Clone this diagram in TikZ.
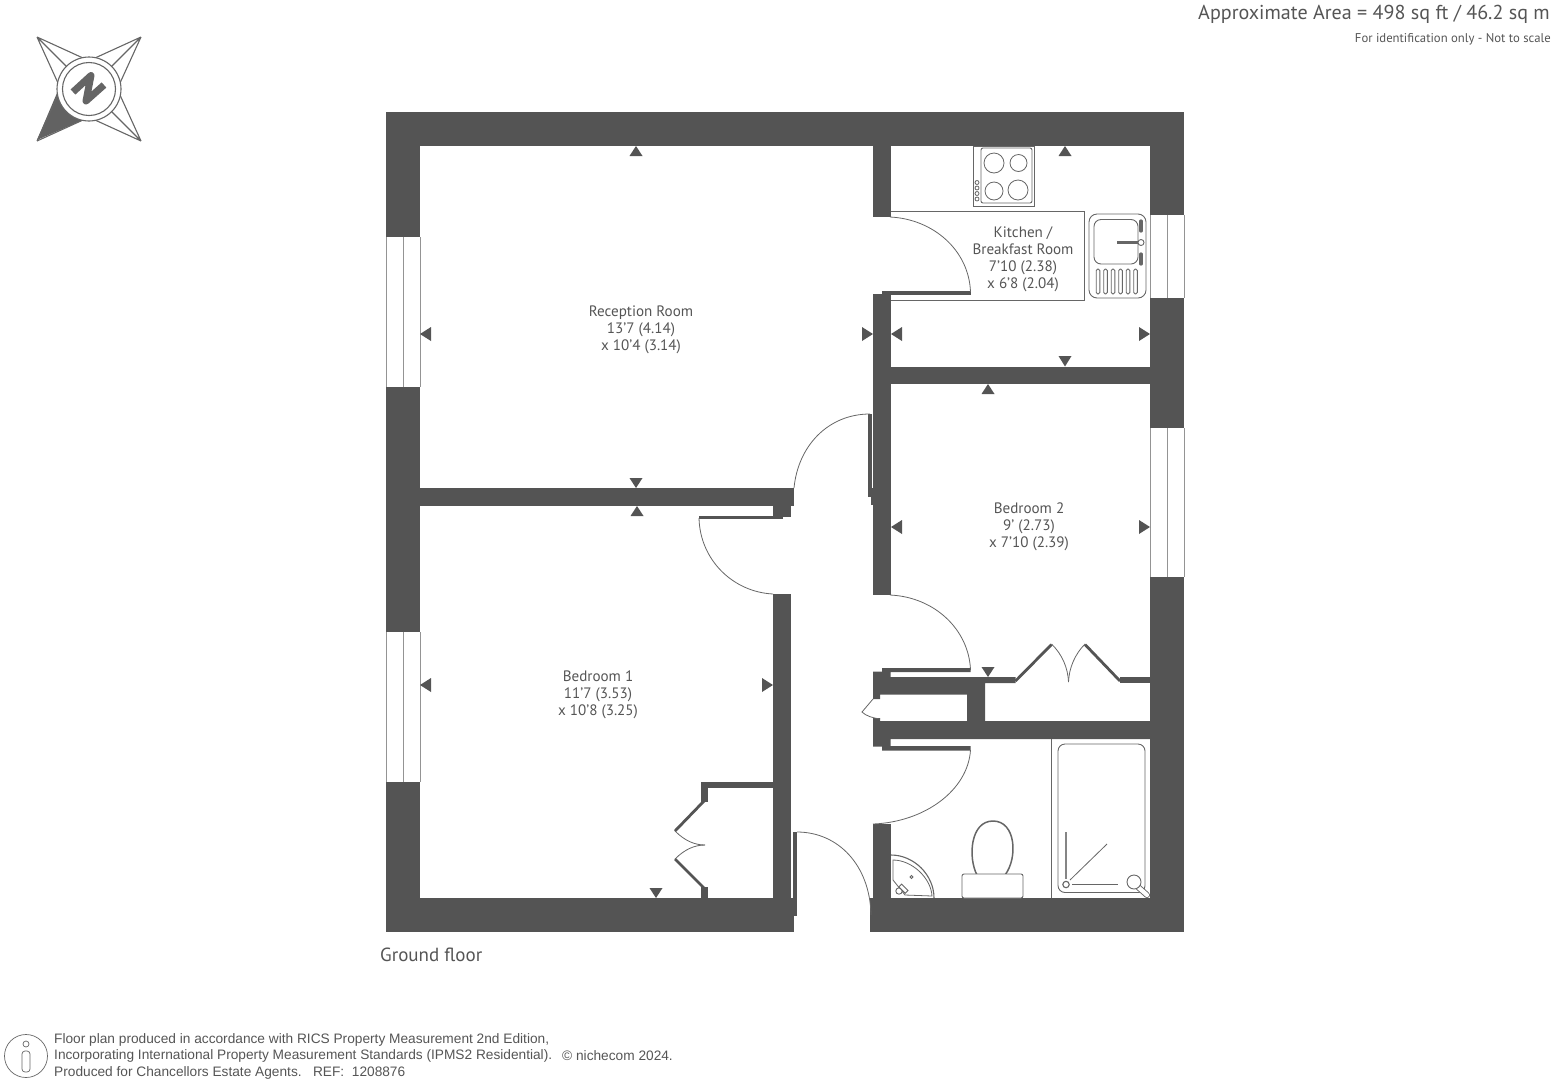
\documentclass[tikz,border=0pt]{standalone}
\usepackage{fontspec}
\setmainfont{PT Sans}
\newfontfamily\footfont{Liberation Sans}
\definecolor{wallc}{HTML}{545454}
\definecolor{linec}{HTML}{666666}
\definecolor{textc}{HTML}{555555}
\tikzset{
 wall/.style={fill=wallc,draw=none},
 thin line/.style={draw=linec,line width=0.8pt},
 fixture/.style={draw=linec,line width=0.9pt,fill=white},
 leaf/.style={draw=wallc,line width=2.8pt},
 marker/.style={fill=wallc,draw=none},
 room/.style={align=center,text=textc,font=\fontsize{15.1}{17}\selectfont,inner sep=0pt},
}
\begin{document}
\begin{tikzpicture}[x=1pt,y=-1pt]
\useasboundingbox (0,0) rectangle (1553,1085);
% ---- outer walls
\fill[wall] (386,112) rectangle (1184,146);
\fill[wall] (386,146) rectangle (420,898);
\fill[wall] (1150,146) rectangle (1184,898);
\fill[wall] (386,898) rectangle (794,932);
\fill[wall] (870,898) rectangle (1184,932);
% ---- windows
\foreach \xa/\xb/\ya/\yb in {386/420/237/387, 386/420/632/782, 1150/1184/215/298, 1150/1184/428/577}{
  \fill[white] (\xa,\ya) rectangle (\xb,\yb);
  \draw[draw=linec!70,line width=0.5pt] (\xa,\ya) -- (\xa,\yb) (\xb,\ya) -- (\xb,\yb);
  \draw[draw=linec!70,line width=0.5pt] ({(\xa+\xb)/2},\ya) -- ({(\xa+\xb)/2},\yb);
}
% ---- inner walls
\fill[wall] (873,146) rectangle (890.5,217);
\fill[wall] (873,294) rectangle (890.5,595);
\fill[wall] (890,366.5) rectangle (1150,384);
\fill[wall] (420,488) rectangle (794,505.5);
\fill[wall] (773,505) rectangle (791,517);
\fill[wall] (773,594) rectangle (791,898);
\fill[wall] (791,898) rectangle (794,915);
% stub offsets at doors
\fill[wall] (868,488) rectangle (873,497);
\fill[wall] (871,497) rectangle (873,505);
\fill[wall] (882,291) rectangle (970.5,295);
\fill[wall] (873,294) rectangle (882,298);
% ---- door leaves
\fill[wall] (868,414) rectangle (872,490);
\fill[wall] (698.5,515.5) rectangle (783,519);
\fill[wall] (793,832) rectangle (797,915.5);
% ---- walls round the store and bath
\fill[wall] (873,671.5) -- (882,671.5) -- (882,668) -- (970.5,668) -- (970.5,672) -- (890.5,672) -- (890.5,677) -- (1015.5,677) -- (1015.5,683) -- (985,683) -- (985,721) -- (1150,721) -- (1150,739) -- (890.5,739) -- (890.5,746) -- (970.5,746) -- (970.5,750.5) -- (882,750.5) -- (882,746.5) -- (873,746.5) -- (873,718) -- (880,718) -- (880,721) -- (967,721) -- (967,694.5) -- (880,694.5) -- (880,699) -- (873,699) -- cycle;
\fill[wall] (1120,677) rectangle (1150,683);
\fill[wall] (873,824) rectangle (890.5,898);
% ---- bedroom 1 closet
\fill[wall] (701,782) rectangle (773,788);
\fill[wall] (701,782) rectangle (708,802);
\fill[wall] (701,887) rectangle (708,898);
\draw[leaf] (704,801) -- (675,831);
\draw[leaf] (704,888) -- (675,859);
\draw[thin line] (675,831) .. controls (685,841) and (695,845) .. (705,845);
\draw[thin line] (675,859) .. controls (685,849) and (695,845) .. (705,845);
% ---- door swings
\draw[thin line] (890,217) .. controls (933,219) and (969,250) .. (970.5,292);
\draw[thin line] (794,488) .. controls (798,446) and (828,414) .. (870,414);
\draw[thin line] (699,518) .. controls (700,560) and (733,592) .. (773,594);
\draw[thin line] (797,832) .. controls (838,832) and (870,865) .. (871,915);
\draw[thin line] (890,595) .. controls (935,597) and (969,630) .. (970.5,670);
\draw[thin line] (970.5,750) .. controls (968,790) and (925,822) .. (873,824);
\draw[thin line] (873,699) -- (862,712) .. controls (866,716) and (873,718) .. (880,719);
% ---- bedroom 2 closet
\draw[leaf] (1015.5,681) -- (1051.5,644.5);
\draw[leaf] (1120,681) -- (1085,644.5);
\draw[thin line] (1051.5,644) .. controls (1062,654) and (1068,668) .. (1068.5,682);
\draw[thin line] (1085,644) .. controls (1075,654) and (1069,668) .. (1068.5,682);
% ---- kitchen
\draw[thin line] (890.5,211.5) -- (1084,211.5) -- (1084,300) -- (890.5,300);
\draw[fixture] (973,146) rectangle (1034,206);
\draw[fixture,rounded corners=2pt] (981,148) rectangle (1032,203);
\draw[thin line] (994,163) circle[radius=10pt];
\draw[thin line] (1018.5,163) circle[radius=8.5pt];
\draw[thin line] (994,191) circle[radius=9pt];
\draw[thin line] (1018,190) circle[radius=10pt];
\foreach \y in {182.5,188,193.5,199}{\draw[thin line] (977,\y) circle[radius=2pt];}
\draw[fixture,rounded corners=8pt] (1089,214) rectangle (1146,298);
\draw[fixture,rounded corners=7pt] (1094,219.5) rectangle (1138,264);
\draw[thin line,line width=2.2pt] (1117,242.5) -- (1138,242.5);
\draw[fixture] (1141,242.5) circle[radius=3pt];
\draw[draw=linec,line width=3.2pt,line cap=round] (1141,221) -- (1141,231);
\draw[draw=linec,line width=3.2pt,line cap=round] (1141,254) -- (1141,264);
\foreach \x in {1098,1105.5,1113,1120.5,1128,1135.5}{
  \draw[fixture,rounded corners=1.5pt] (\x-1.8,269) rectangle (\x+1.8,294);}
% ---- bathroom
\draw[thin line] (1051.5,739) -- (1051.5,898);
\draw[fixture,rounded corners=7pt] (1058,744) rectangle (1145,892.5);
\draw[thin line,draw=linec!80,line width=1.1pt] (1066,832) -- (1066,879);
\draw[thin line] (1070,880) -- (1107,844);
\draw[thin line] (1072,884.5) -- (1118,884.5);
\draw[thin line,line width=1.1pt] (1066,884.5) circle[radius=3.2pt];
\draw[draw=linec,line width=6pt,line cap=round] (1138,887) -- (1147,895);
\draw[draw=white,line width=4.2pt,line cap=round] (1138,887) -- (1147,895);
\draw[fixture] (1134,882) circle[radius=7pt];
% toilet
\draw[thin line,line width=1.5pt] (977,875) .. controls (968,858) and (970,821) .. (993,821) .. controls (1016,821) and (1018,858) .. (1005,875);
\draw[fixture,rounded corners=2pt] (962,874) rectangle (1023,898);
% basin
\draw[thin line,line width=1.1pt] (891,855) .. controls (914,855) and (934,875) .. (934,898);
\draw[thin line] (893,860) .. controls (912,860) and (931,878) .. (932,896) -- (905,895) -- (893,880) -- cycle;
\draw[thin line] (911.5,877) circle[radius=1.5pt];
\draw[fixture] (899,891) circle[radius=3.2pt];
\draw[fixture,rotate around={-45:(902,888)}] (899,885.5) rectangle (908,889.5);
% ---- markers
\foreach \ax/\ay/\bx/\by/\cx/\cy in {
 636/146/629.5/156/642.5/156, 1065/146/1058.5/156/1071.5/156,
 988/384/981.5/394/994.5/394, 637/506/630.5/516/643.5/516,
 636/488/629.5/478/642.5/478, 1065/366.5/1058.5/356/1071.5/356,
 988/677/981.5/667/994.5/667, 656/898/649.5/888/662.5/888,
 420/334/431/327/431/341, 891/334/902/327/902/341, 891/527/902/520/902/534, 420/685/431/678/431/692,
 873/334/862/327/862/341, 1150/334/1139/327/1139/341, 1150/527/1139/520/1139/534, 773/685/762/678/762/692}{
  \fill[marker] (\ax,\ay) -- (\bx,\by) -- (\cx,\cy) -- cycle;}
% ---- room labels
\node[room] (reception) at (641,329.5) {Reception Room\\13'7 (4.14)\\x 10'4 (3.14)};
\node[room] (kitchen) at (1023,259) {Kitchen /\\Breakfast Room\\7'10 (2.38)\\x 6'8 (2.04)};
\node[room] (bedtwo) at (1029,526.5) {Bedroom 2\\9' (2.73)\\x 7'10 (2.39)};
\node[room] (bedone) at (598,694.5) {Bedroom 1\\11'7 (3.53)\\x 10'8 (3.25)};
\node[text=textc,font=\fontsize{19}{22}\selectfont,anchor=west,inner sep=0pt] (floor) at (380,955) {Ground floor};
\node[text=textc,font=\fontsize{20.1}{22}\selectfont,anchor=east,inner sep=0pt] (area) at (1550,14) {Approximate Area = 498 sq ft / 46.2 sq m};
\node[text=textc,font=\fontsize{12.7}{14}\selectfont,anchor=east,inner sep=0pt] (ident) at (1551,39) {For identification only - Not to scale};
% ---- compass
\begin{scope}[draw=linec,line width=1.1pt]
\fill[wallc!92!white] (37,140) -- (57,93) -- (66,110) -- (83,120) -- cycle;
\draw (37,37) -- (83,58) (37,37) -- (58,83) (37,37) -- (67,67);
\draw (141,37) -- (95,58) (141,37) -- (120,83) (141,37) -- (111,67);
\draw (141,141) -- (95,120) (141,141) -- (120,95) (141,141) -- (111,111);
\draw (37,141) -- (83,120) (37,141) -- (58,95);
\draw[fill=white] (89,89) circle[radius=32pt];
\draw[fill=white] (89,89) circle[radius=26.5pt];
\draw[wallc!90!white,line width=7pt,line join=round] (73,92) -- (91,75.5) -- (86,101) -- (104,85);
\end{scope}
% ---- footer
\draw[linec,line width=0.7pt] (26,1056) circle[radius=21.5pt];
\draw[linec,line width=0.7pt] (26,1044) circle[radius=3pt];
\draw[linec,line width=0.7pt,rounded corners=3pt] (22,1051) rectangle (30,1072);
\node[text=textc,font=\footfont\fontsize{13.7}{16.5}\selectfont,align=left,anchor=north west,inner sep=0pt] (foot) at (54,1033) {Floor plan produced in accordance with RICS Property Measurement 2nd Edition,\\Incorporating International Property Measurement Standards (IPMS2 Residential).\\Produced for Chancellors Estate Agents.\ \ \ REF:\ \ 1208876};
\node[text=textc,font=\footfont\fontsize{13.7}{16}\selectfont,anchor=west,inner sep=0pt] (niche) at (562,1055.5) {© nichecom 2024.};
\end{tikzpicture}
\end{document}
